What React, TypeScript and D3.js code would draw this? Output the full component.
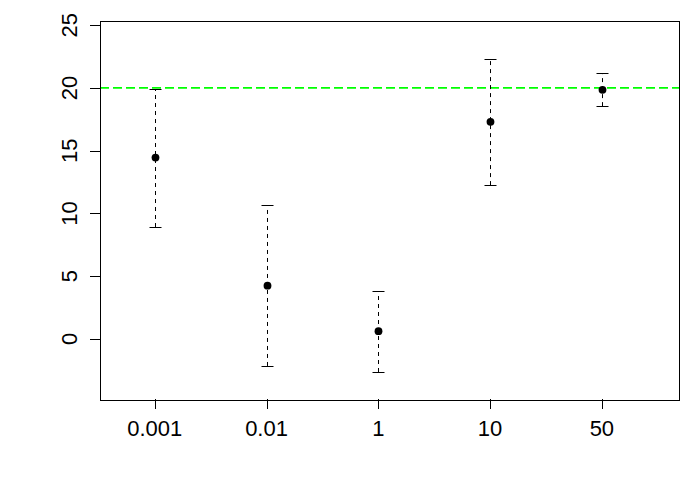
import React, { useRef, useEffect } from 'react';
import * as d3 from 'd3';

// categories on the x axis and estimated means with interval bounds
const labels = ["0.001", "0.01", "1", "10", "50"];
const means = [14.45, 4.25, 0.62, 17.3, 19.85];
const lower = [8.92, -2.15, -2.63, 12.26, 18.55];
const upper = [19.9, 10.67, 3.82, 22.29, 21.18];
const yTicks = [0, 5, 10, 15, 20, 25];
const refLine = 20;

const App = () => {
    const ref = useRef<SVGSVGElement>(null);

    useEffect(() => {
        const svg = d3.select(ref.current);
        svg.selectAll("*").remove();

        const left = 100, right = 679, top = 20.5, bottom = 399;
        const font = "Liberation Sans, Arial, sans-serif";

        const x = d3.scaleLinear().domain([0.51, 5.69]).range([left, right]);
        const y = d3.scaleLinear().domain([-4.78, 25.37]).range([bottom, top]);
        // snap to pixel centres so 1px lines stay sharp
        const px = (v: number) => Math.round(v) + 0.5;

        const idx = d3.range(labels.length);

        // reference line
        svg.append("line")
            .attr("x1", left).attr("x2", right)
            .attr("y1", y(refLine)).attr("y2", y(refLine))
            .attr("stroke", "#00ff00")
            .attr("stroke-width", 1.6)
            .attr("stroke-dasharray", "9,4");

        const g = svg.append("g");

        // dashed vertical bars
        g.selectAll("line.bar")
            .data(idx)
            .enter().append("line")
            .attr("class", "bar")
            .attr("x1", i => px(x(i + 1))).attr("x2", i => px(x(i + 1)))
            .attr("y1", i => y(lower[i])).attr("y2", i => y(upper[i]))
            .attr("stroke", "black")
            .attr("stroke-dasharray", "4,4");

        // caps
        [lower, upper].forEach(arr => {
            g.selectAll(null)
                .data(idx)
                .enter().append("line")
                .attr("x1", i => px(x(i + 1)) - 6).attr("x2", i => px(x(i + 1)) + 6)
                .attr("y1", i => px(y(arr[i]))).attr("y2", i => px(y(arr[i])))
                .attr("stroke", "black");
        });

        svg.selectAll("circle")
            .data(idx)
            .enter().append("circle")
            .attr("cx", i => px(x(i + 1)))
            .attr("cy", i => y(means[i]))
            .attr("r", 3.9)
            .attr("fill", "black");

        // box
        svg.append("rect")
            .attr("x", px(left)).attr("y", px(top))
            .attr("width", Math.round(right - left)).attr("height", Math.round(bottom - top))
            .attr("fill", "none")
            .attr("stroke", "black");

        // x axis ticks and labels
        const xa = svg.append("g");
        xa.selectAll("line")
            .data(idx)
            .enter().append("line")
            .attr("x1", i => px(x(i + 1))).attr("x2", i => px(x(i + 1)))
            .attr("y1", bottom).attr("y2", bottom + 10)
            .attr("stroke", "black");
        xa.selectAll("text")
            .data(idx)
            .enter().append("text")
            .attr("x", i => x(i + 1))
            .attr("y", 436)
            .attr("text-anchor", "middle")
            .attr("font-family", font)
            .attr("font-size", 22)
            .text(i => labels[i]);

        // y axis
        const ya = svg.append("g");
        ya.selectAll("line")
            .data(yTicks)
            .enter().append("line")
            .attr("x1", left - 10).attr("x2", left)
            .attr("y1", d => px(y(d))).attr("y2", d => px(y(d)))
            .attr("stroke", "black");
        ya.selectAll("text")
            .data(yTicks)
            .enter().append("text")
            .attr("transform", d => `translate(77,${y(d)}) rotate(-90)`)
            .attr("text-anchor", "middle")
            .attr("font-family", font)
            .attr("font-size", 22)
            .text(d => d);
    }, []);

    return (
        <svg ref={ref} width={700} height={500}
            style={{ position: "absolute", left: 0, top: 0, background: "white" }}></svg>
    );
};

export default App;
